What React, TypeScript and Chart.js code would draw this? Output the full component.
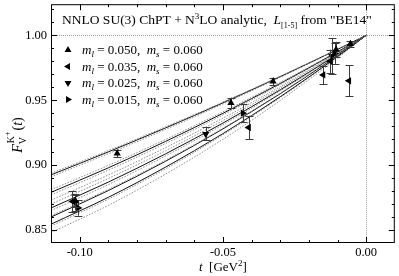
import React, { useEffect, useRef } from 'react';
import { Chart, registerables } from 'chart.js';

Chart.register(...registerables);

const SERIF = '"Liberation Serif", "DejaVu Serif", serif';

// ---- data ----
const mlLabels = ['0.050', '0.035', '0.025', '0.015'];
const msLabels = ['0.060', '0.060', '0.060', '0.060'];
const markerRotation = [0, 270, 180, 90];

const tA = [-0.1015, -0.0869, -0.0472, -0.0325, -0.0105, -0.0055];
const fA = [0.8725, 0.909, 0.948, 0.9645, 0.989, 0.9934];
const eA = [0.005, 0.003, 0.004, 0.003, 0.006, 0.0025];

const tB = [-0.1025, -0.041, -0.015, -0.0125, -0.006];
const fB = [0.872, 0.929, 0.9695, 0.98, 0.965];
const eB = [0.008, 0.009, 0.007, 0.009, 0.012];

const tC = [-0.1015, -0.056, -0.012];
const fC = [0.871, 0.924, 0.984];
const eC = [0.006, 0.005, 0.014];

const tD = [-0.1005, -0.043, -0.011];
const fD = [0.867, 0.94, 0.986];
const eD = [0.006, 0.007, 0.008];

const curveT = [-0.11, -0.09, -0.07, -0.05, -0.03, -0.01, 0.0];
const curves: number[][] = [
  [0.8937, 0.9112, 0.9295, 0.9486, 0.9685, 0.9893, 1.0],
  [0.8925, 0.9102, 0.9287, 0.948, 0.9682, 0.9892, 1.0],
  [0.891, 0.9088, 0.9275, 0.9471, 0.9676, 0.989, 1.0],
  [0.881, 0.8998, 0.9198, 0.9411, 0.9637, 0.9876, 1.0],
  [0.879, 0.8979, 0.9183, 0.9399, 0.9629, 0.9873, 1.0],
  [0.877, 0.8961, 0.9167, 0.9387, 0.9621, 0.987, 1.0],
  [0.873, 0.8924, 0.9135, 0.9362, 0.9605, 0.9864, 1.0],
  [0.87, 0.8897, 0.9111, 0.9343, 0.9593, 0.986, 1.0],
  [0.867, 0.8869, 0.9087, 0.9324, 0.958, 0.9855, 1.0],
  [0.865, 0.885, 0.9071, 0.9311, 0.9572, 0.9852, 1.0],
  [0.861, 0.8813, 0.9038, 0.9285, 0.9555, 0.9846, 1.0],
  [0.86, 0.8804, 0.903, 0.9279, 0.955, 0.9844, 1.0],
  [0.8545, 0.8752, 0.8985, 0.9243, 0.9527, 0.9836, 1.0],
  [0.853, 0.8738, 0.8972, 0.9233, 0.952, 0.9833, 1.0],
  [0.848, 0.869, 0.8931, 0.9199, 0.9498, 0.9825, 1.0],
];
const curveSolid = [false, true, false, false, true, false, false, false, true, false, false, true, true, false, false];

const xMajor = [-0.1, -0.05, 0.0];
const xMajorLabels = ['-0.10', '-0.05', '0.00'];
const xMinor = [-0.09, -0.08, -0.07, -0.06, -0.04, -0.03, -0.02, -0.01];
const yMajor = [0.85, 0.9, 0.95, 1.0];
const yMajorLabels = ['0.85', '0.90', '0.95', '1.00'];
const yMinor = [0.86, 0.87, 0.88, 0.89, 0.91, 0.92, 0.93, 0.94, 0.96, 0.97, 0.98, 0.99, 1.01, 1.02];

const pointT = [tA, tB, tC, tD];
const pointF = [fA, fB, fC, fD];
const pointE = [eA, eB, eC, eD];

type Part = { s: string; it?: boolean; size?: number; dy?: number };

function partsWidth(ctx: CanvasRenderingContext2D, parts: Part[], base: number) {
  let w = 0;
  for (const p of parts) {
    ctx.font = `${p.it ? 'italic ' : ''}${p.size ?? base}px ${SERIF}`;
    w += ctx.measureText(p.s).width;
  }
  return w;
}

function drawParts(ctx: CanvasRenderingContext2D, x: number, y: number, parts: Part[], base: number) {
  let cx = x;
  for (const p of parts) {
    ctx.font = `${p.it ? 'italic ' : ''}${p.size ?? base}px ${SERIF}`;
    ctx.fillText(p.s, cx, y + (p.dy ?? 0));
    cx += ctx.measureText(p.s).width;
  }
  return cx - x;
}

function tri(ctx: CanvasRenderingContext2D, x: number, y: number, r: number, rotDeg: number) {
  let rad = (rotDeg * Math.PI) / 180;
  ctx.beginPath();
  for (let i = 0; i < 3; i++) {
    const px = x + Math.sin(rad) * r;
    const py = y - Math.cos(rad) * r;
    if (i === 0) ctx.moveTo(px, py);
    else ctx.lineTo(px, py);
    rad += (2 * Math.PI) / 3;
  }
  ctx.closePath();
  ctx.fill();
}

const decorPlugin = {
  id: 'decor',
  beforeDatasetsDraw(chart: any) {
    const { ctx, chartArea: a, scales } = chart;
    const x = scales.x, y = scales.y;
    ctx.save();
    ctx.strokeStyle = '#9a9a9a';
    ctx.lineWidth = 1;
    ctx.setLineDash([1, 1]);
    const y1 = Math.round(y.getPixelForValue(1.0)) + 0.5;
    ctx.beginPath();
    ctx.moveTo(a.left, y1);
    ctx.lineTo(a.right, y1);
    const x0 = Math.round(x.getPixelForValue(0.0)) + 0.5;
    ctx.moveTo(x0, a.top);
    ctx.lineTo(x0, a.bottom);
    ctx.stroke();
    ctx.restore();
  },
  beforeDatasetDraw(chart: any, args: any) {
    const i = args.index;
    if (i > 3) return;
    const { ctx, scales } = chart;
    const x = scales.x, y = scales.y;
    ctx.save();
    ctx.strokeStyle = '#3a3a3a';
    ctx.lineWidth = 1;
    ctx.beginPath();
    const ts = pointT[i], fs = pointF[i], es = pointE[i];
    for (let k = 0; k < ts.length; k++) {
      const px = Math.round(x.getPixelForValue(ts[k])) + 0.5;
      const yt = y.getPixelForValue(fs[k] + es[k]);
      const yb = y.getPixelForValue(fs[k] - es[k]);
      ctx.moveTo(px, yt);
      ctx.lineTo(px, yb);
      ctx.moveTo(px - 4, Math.round(yt) + 0.5);
      ctx.lineTo(px + 4, Math.round(yt) + 0.5);
      ctx.moveTo(px - 4, Math.round(yb) + 0.5);
      ctx.lineTo(px + 4, Math.round(yb) + 0.5);
    }
    ctx.stroke();
    ctx.restore();
  },
  afterDraw(chart: any) {
    const { ctx, chartArea: a, scales } = chart;
    const x = scales.x, y = scales.y;
    ctx.save();
    // frame
    ctx.strokeStyle = '#000';
    ctx.lineWidth = 1;
    ctx.strokeRect(a.left + 0.5, a.top + 0.5, a.right - a.left - 1, a.bottom - a.top - 1);
    // ticks
    ctx.beginPath();
    const xt = (v: number, len: number) => {
      const px = Math.round(x.getPixelForValue(v)) + 0.5;
      ctx.moveTo(px, a.bottom);
      ctx.lineTo(px, a.bottom - len);
      ctx.moveTo(px, a.top);
      ctx.lineTo(px, a.top + len);
    };
    const yt = (v: number, len: number) => {
      const py = Math.round(y.getPixelForValue(v)) + 0.5;
      ctx.moveTo(a.left, py);
      ctx.lineTo(a.left + len, py);
      ctx.moveTo(a.right, py);
      ctx.lineTo(a.right - len, py);
    };
    xMajor.forEach((v) => xt(v, 6));
    xMinor.forEach((v) => xt(v, 3));
    yMajor.forEach((v) => yt(v, 6));
    yMinor.forEach((v) => yt(v, 3));
    ctx.stroke();

    ctx.fillStyle = '#000';
    ctx.font = `12.5px ${SERIF}`;
    ctx.textAlign = 'center';
    ctx.textBaseline = 'alphabetic';
    xMajor.forEach((v, k) => {
      ctx.fillText(xMajorLabels[k], x.getPixelForValue(v), 256);
    });
    ctx.textAlign = 'right';
    ctx.textBaseline = 'middle';
    yMajor.forEach((v, k) => {
      ctx.fillText(yMajorLabels[k], 47, y.getPixelForValue(v));
    });

    ctx.textAlign = 'left';
    ctx.textBaseline = 'alphabetic';
    // title
    drawParts(ctx, 62, 24, [
      { s: 'NNLO SU(3) ChPT + N' },
      { s: '3', size: 9, dy: -5 },
      { s: 'LO analytic,  ' },
      { s: 'L', it: true },
      { s: '[1-5]', size: 8, dy: 4 },
      { s: ' from "BE14"' },
    ], 13.5);

    // legend
    const rows = [54, 70.5, 87, 103.5];
    rows.forEach((by, k) => {
      tri(ctx, 68, by - 4, 4, markerRotation[k]);
      drawParts(ctx, 82, by, [
        { s: 'm', it: true },
        { s: 'l', it: true, size: 9, dy: 3 },
        { s: ' = ' + mlLabels[k] + ',  ' },
        { s: 'm', it: true },
        { s: 's', it: true, size: 9, dy: 3 },
        { s: ' = ' + msLabels[k] },
      ], 13);
    });

    // x axis title
    const xParts: Part[] = [
      { s: 't', it: true },
      { s: '  [GeV' },
      { s: '2', size: 9, dy: -5 },
      { s: ']' },
    ];
    const xw = partsWidth(ctx, xParts, 13);
    drawParts(ctx, (a.left + a.right) / 2 - xw / 2, 271, xParts, 13);

    // y axis title (rotated)
    ctx.translate(22, 135);
    ctx.rotate(-Math.PI / 2);
    ctx.font = `italic 14px ${SERIF}`;
    const wF = ctx.measureText('F').width;
    ctx.font = `10px ${SERIF}`;
    const wV = ctx.measureText('V').width;
    const wK = ctx.measureText('K').width;
    ctx.font = `8px ${SERIF}`;
    const wP = ctx.measureText('+').width;
    ctx.font = `14px ${SERIF}`;
    const wT = ctx.measureText('()').width;
    ctx.font = `italic 14px ${SERIF}`;
    const wt = ctx.measureText('t').width;
    const wSS = Math.max(wV, wK + wP);
    const total = wF + wSS + 2 + wT + wt;
    let cx = -total / 2;
    ctx.font = `italic 14px ${SERIF}`;
    ctx.fillText('F', cx, 0);
    cx += wF;
    ctx.font = `10px ${SERIF}`;
    ctx.fillText('V', cx, 4);
    ctx.fillText('K', cx + 1, -8);
    ctx.font = `8px ${SERIF}`;
    ctx.fillText('+', cx + 1 + wK, -12);
    cx += wSS + 2;
    ctx.font = `14px ${SERIF}`;
    ctx.fillText('(', cx, 0);
    cx += ctx.measureText('(').width;
    ctx.font = `italic 14px ${SERIF}`;
    ctx.fillText('t', cx, 0);
    cx += wt;
    ctx.font = `14px ${SERIF}`;
    ctx.fillText(')', cx, 0);
    ctx.restore();
  },
};

export default function App() {
  const ref = useRef<HTMLCanvasElement>(null);
  useEffect(() => {
    if (!ref.current) return;
    const pointSets = pointT.map((ts, i) => ({
      type: 'scatter' as const,
      data: ts.map((t, k) => ({ x: t, y: pointF[i][k] })),
      showLine: false,
      pointStyle: 'triangle',
      rotation: markerRotation[i],
      pointRadius: 4.2,
      backgroundColor: '#000',
      borderColor: '#000',
      borderWidth: 0,
    }));
    const curveSets = curves.map((c, i) => ({
      type: 'scatter' as const,
      data: curveT.map((t, k) => ({ x: t, y: c[k] })),
      showLine: true,
      pointRadius: 0,
      borderWidth: 1,
      borderColor: curveSolid[i] ? '#111' : '#8c8c8c',
      borderDash: curveSolid[i] ? [] : [1.5, 1.5],
      cubicInterpolationMode: 'monotone',
      fill: false,
    }));
    const chart = new Chart(ref.current, {
      type: 'scatter',
      data: { datasets: [...pointSets, ...curveSets] as any },
      options: {
        animation: false,
        responsive: false,
        devicePixelRatio: 1,
        layout: { padding: { left: 51, right: 2, top: 2, bottom: 33 } },
        scales: {
          x: { type: 'linear', min: -0.11, max: 0.01, display: false },
          y: { type: 'linear', min: 0.84, max: 1.024, display: false },
        },
        plugins: { legend: { display: false }, tooltip: { enabled: false } },
        events: [],
      },
      plugins: [decorPlugin],
    });
    return () => chart.destroy();
  }, []);
  return (
    <div style={{ position: 'fixed', left: 0, top: 0, width: 399, height: 276, background: '#fff' }}>
      <canvas ref={ref} width={399} height={276} style={{ width: 399, height: 276 }} />
    </div>
  );
}
